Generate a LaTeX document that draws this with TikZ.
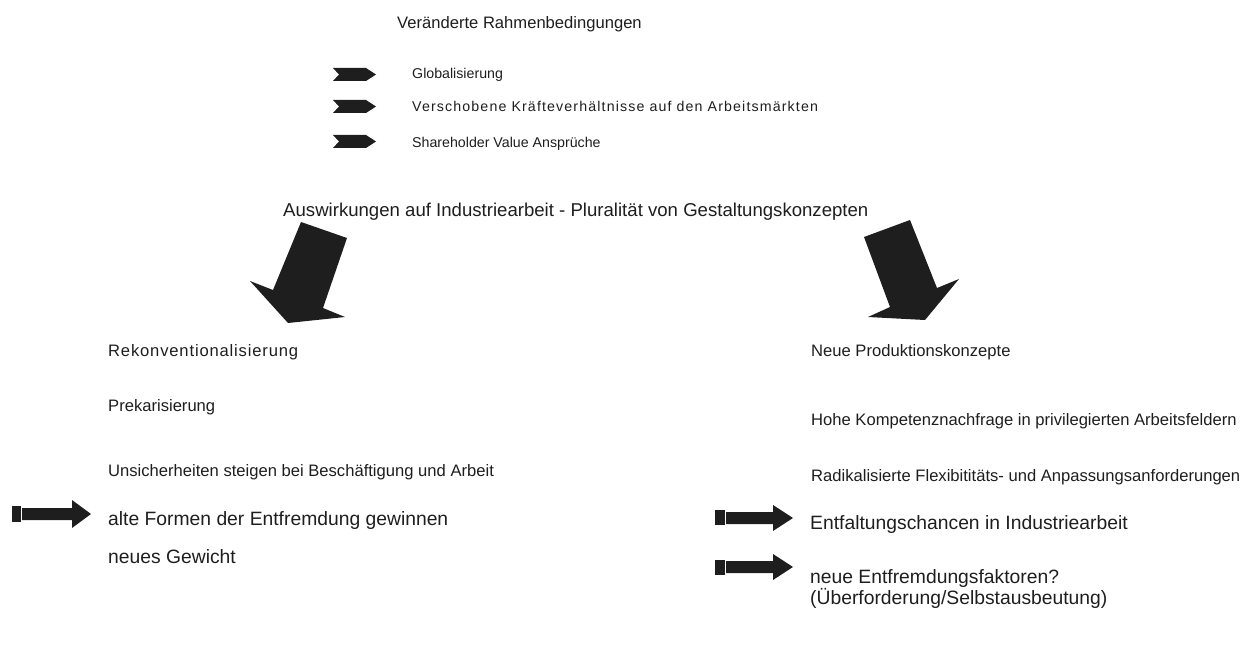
\documentclass[tikz,border=0pt]{standalone}
\usepackage{fontspec}
\setmainfont{Liberation Sans}
\definecolor{ink}{RGB}{30,30,30}

\tikzset{
  listtext/.style={anchor=base west, inner sep=0pt, text=ink, font=\fontsize{14.2}{17}\selectfont},
  coltext/.style={anchor=base west, inner sep=0pt, text=ink, font=\fontsize{16.6}{20}\selectfont},
  bigtext/.style={anchor=base west, inner sep=0pt, text=ink, font=\fontsize{19.3}{23}\selectfont},
  blockfill/.style={fill=ink},
}

\begin{document}
\begin{tikzpicture}[x=1pt, y=-1pt, line join=round]
	\useasboundingbox (0,0) rectangle (1242,650);
	% Rahmenbedingungen
	\node[coltext] (rahmen) at (397,29) {Veränderte Rahmenbedingungen};
	\fill[blockfill] (333,68) -- (366,68) -- (376,74.5) -- (366,81) -- (333,81) -- (339,74.5) -- cycle;
	\fill[blockfill] (333,100) -- (366,100) -- (376,106.5) -- (366,113) -- (333,113) -- (339,106.5) -- cycle;
	\fill[blockfill] (333,135) -- (366,135) -- (376,141.5) -- (366,148) -- (333,148) -- (339,141.5) -- cycle;
	\node[listtext] (global) at (412,79) {Globalisierung};
	\node[listtext] (kraefte) at (412,112) {\addfontfeature{LetterSpace=8}Verschobene Kräfteverhältnisse auf den Arbeitsmärkten};
	\node[listtext] (share) at (412,147) {Shareholder Value Ansprüche};

	% Auswirkungen
	\node[bigtext, font=\fontsize{18.6}{22}\selectfont] (auswirk) at (283,216) {Auswirkungen auf Industriearbeit - Pluralität von Gestaltungskonzepten};
	\fill[blockfill] (301,222) -- (347,238) -- (323,308) -- (345,317) -- (288,323) -- (250,281) -- (273,290) -- cycle;
	\fill[blockfill] (864,237) -- (910,220) -- (937,288) -- (959,279) -- (925,320) -- (868,317) -- (890,307) -- cycle;

	% linke Seite
	\node[coltext] (rekon) at (108,356) {\addfontfeature{LetterSpace=5}Rekonventionalisierung};
	\node[coltext] (prekar) at (108,411) {Prekarisierung};
	\node[coltext] (unsicher) at (108,476) {Unsicherheiten steigen bei Beschäftigung und Arbeit};
	\fill[blockfill] (12,506) rectangle (21,522);
	\fill[blockfill] (22,508) -- (72,508) -- (72,500) -- (91,514) -- (72,528) -- (72,520) -- (22,520) -- cycle;
	\node[bigtext] (altform) at (108,525) {alte Formen der Entfremdung gewinnen};
	\node[bigtext] (gewicht) at (108,563) {neues Gewicht};

	% rechte Seite
	\node[coltext] (neuprod) at (811,356) {Neue Produktionskonzepte};
	\node[coltext] (kompetenz) at (811,425) {Hohe Kompetenznachfrage in privilegierten Arbeitsfeldern};
	\node[coltext] (radikal) at (811,481) {Radikalisierte Flexibititäts- und Anpassungsanforderungen};
	\fill[blockfill] (715,510) rectangle (725,525);
	\fill[blockfill] (726,512) -- (773,512) -- (773,505) -- (793,518) -- (773,531) -- (773,524) -- (726,524) -- cycle;
	\node[bigtext] (entfalt) at (810,529) {Entfaltungschancen in Industriearbeit};
	\fill[blockfill] (715,560) rectangle (725,575);
	\fill[blockfill] (726,561) -- (773,561) -- (773,554) -- (793,567) -- (773,580) -- (773,573) -- (726,573) -- cycle;
	\node[bigtext] (neuentf) at (810,583) {neue Entfremdungsfaktoren?};
	\node[bigtext] (ueberf) at (810,604) {(Überforderung/Selbstausbeutung)};
\end{tikzpicture}
\end{document}
